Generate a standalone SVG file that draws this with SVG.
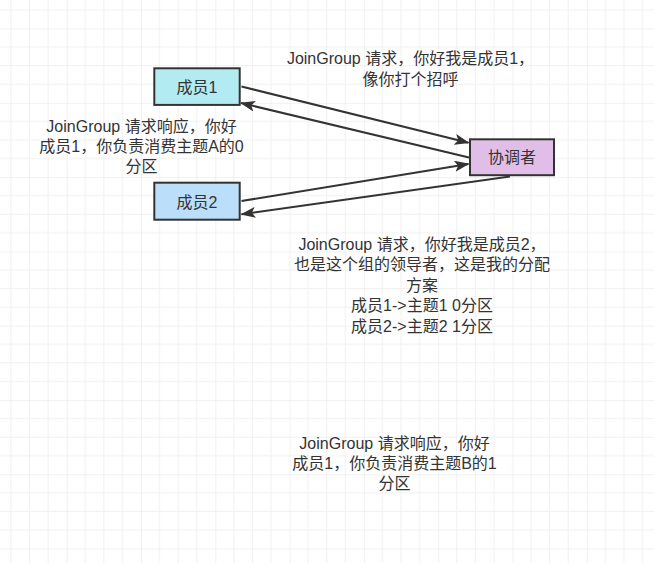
<svg xmlns="http://www.w3.org/2000/svg" width="654" height="563" viewBox="0 0 654 563">
  <defs>
    <pattern id="grid" patternUnits="userSpaceOnUse" x="66.7" y="28.5" width="74.3" height="74.3">
      <g stroke="#f0f0f0" stroke-width="1" fill="none">
        <line x1="18.57" y1="0" x2="18.57" y2="74.3"/>
        <line x1="37.15" y1="0" x2="37.15" y2="74.3"/>
        <line x1="55.72" y1="0" x2="55.72" y2="74.3"/>
        <line x1="0" y1="18.57" x2="74.3" y2="18.57"/>
        <line x1="0" y1="37.15" x2="74.3" y2="37.15"/>
        <line x1="0" y1="55.72" x2="74.3" y2="55.72"/>
      </g>
      <g stroke="#e3e3e3" stroke-width="1" fill="none">
        <line x1="0" y1="0" x2="0" y2="74.3"/>
        <line x1="0" y1="0" x2="74.3" y2="0"/>
      </g>
    </pattern>
    <marker id="arrow" markerUnits="userSpaceOnUse" viewBox="0 0 15 11" markerWidth="15" markerHeight="11" refX="14" refY="5.5" orient="auto">
      <path d="M0,0 L15,5.5 L0,11 L3.5,5.5 Z" fill="#333333"/>
    </marker>
  </defs>
  <style>
    .node rect { stroke: #333333; stroke-width: 2; }
    .lbl { font-family: "Liberation Sans", "Noto Sans CJK SC", sans-serif; font-size: 16px; fill: #333333; text-anchor: middle; }
    .edge { stroke: #333333; stroke-width: 2; fill: none; marker-end: url(#arrow); }
  </style>
  <rect x="0" y="0" width="654" height="563" fill="#ffffff"/>
  <rect x="0" y="0" width="654" height="563" fill="url(#grid)"/>

  <g id="connectors">
    <path class="edge" d="M241.5,86.5 L468.5,142.8"/>
    <path class="edge" d="M469,157.5 L241,103"/>
    <path class="edge" d="M241.5,201 L468.5,164"/>
    <path class="edge" d="M510,176.5 L241.5,214.3"/>
  </g>

  <g id="node-member1" class="node">
    <rect x="154.3" y="68.3" width="85.4" height="36.6" fill="#b2ebf2"/>
    <text class="lbl" x="197" y="92.5">成员1</text>
  </g>
  <g id="node-member2" class="node">
    <rect x="154.3" y="182.7" width="85.4" height="37" fill="#bbdefb"/>
    <text class="lbl" x="197" y="207.5">成员2</text>
  </g>
  <g id="node-coordinator" class="node">
    <rect x="470" y="139.3" width="84" height="35.9" fill="#e1bee7"/>
    <text class="lbl" x="512" y="163">协调者</text>
  </g>

  <g id="label-joingroup1">
    <text class="lbl" x="410.5" y="64">JoinGroup 请求，你好我是成员1，</text>
    <text class="lbl" x="410.5" y="84.5">像你打个招呼</text>
  </g>
  <g id="label-response1">
    <text class="lbl" x="141.5" y="131.5">JoinGroup 请求响应，你好</text>
    <text class="lbl" x="141.5" y="151.5">成员1，你负责消费主题A的0</text>
    <text class="lbl" x="141.5" y="171.5">分区</text>
  </g>
  <g id="label-joingroup2">
    <text class="lbl" x="422" y="249.5">JoinGroup 请求，你好我是成员2，</text>
    <text class="lbl" x="422" y="270">也是这个组的领导者，这是我的分配</text>
    <text class="lbl" x="422" y="290.5">方案</text>
    <text class="lbl" x="422" y="311">成员1-&gt;主题1 0分区</text>
    <text class="lbl" x="422" y="331.5">成员2-&gt;主题2 1分区</text>
  </g>
  <g id="label-response2">
    <text class="lbl" x="394.5" y="448.5">JoinGroup 请求响应，你好</text>
    <text class="lbl" x="394.5" y="468.5">成员1，你负责消费主题B的1</text>
    <text class="lbl" x="394.5" y="489">分区</text>
  </g>
</svg>
